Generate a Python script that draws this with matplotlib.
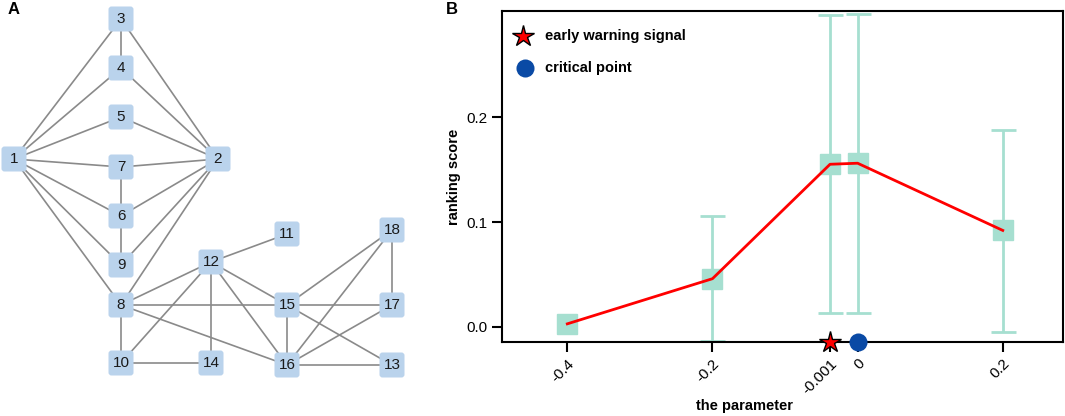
import numpy as np
import matplotlib
matplotlib.use("Agg")
import matplotlib.pyplot as plt
from matplotlib.patches import FancyBboxPatch

plt.rcParams['font.family'] = ['Liberation Sans', 'DejaVu Sans']

# ---- panel A: network ----
node_ids = [1, 2, 3, 4, 5, 6, 7, 8, 9, 10, 11, 12, 13, 14, 15, 16, 17, 18]
node_x = [14, 218, 121, 121, 121, 121, 121, 121, 121, 121, 287, 211, 392, 211, 287, 287, 392, 392]
node_y = [159, 159, 19, 68, 117, 216, 167, 305, 265, 363, 234, 262, 365, 363, 305, 365, 305, 230]
edges = [(1, 3), (1, 4), (1, 5), (1, 7), (1, 6), (1, 9), (1, 8),
         (2, 3), (2, 4), (2, 5), (2, 7), (2, 6), (2, 9), (2, 8),
         (3, 4), (7, 6), (6, 9),
         (8, 12), (8, 15), (8, 16), (8, 10),
         (12, 11), (12, 10), (12, 14), (12, 15), (12, 16),
         (10, 14), (15, 16), (15, 17), (15, 18), (15, 13),
         (16, 18), (16, 17), (16, 13), (18, 17)]

# ---- panel B: ranking score ----
param_labels = ['-0.4', '-0.2', '-0.001', '0', '0.2']
param_vals = [-0.4, -0.2, -0.001, 0.0, 0.2]
score_mean = [0.003, 0.046, 0.155, 0.156, 0.092]
score_low = [0.003, -0.013, 0.013, 0.013, -0.005]
score_high = [0.003, 0.106, 0.297, 0.298, 0.188]
warning_param = -0.001
critical_param = 0.0

# display positions for the axis: -0.001 is pulled away from 0 so both show
axis_vals = [-1.0, -0.4, -0.2, -0.001, 0.0, 0.2, 1.0]
axis_pos = [-1.0, -0.4, -0.2, -0.038, 0.0, 0.2, 1.0]

teal = '#a6dfd0'
node_col = '#bad3ec'

fig = plt.figure(figsize=(10.65, 4.16), dpi=100)

axA = fig.add_axes([0, 0, 440 / 1065, 1])
axA.set_xlim(0, 440)
axA.set_ylim(416, 0)
axA.axis('off')
pos = {n: (x, y) for n, x, y in zip(node_ids, node_x, node_y)}
for a, b in edges:
    axA.plot([pos[a][0], pos[b][0]], [pos[a][1], pos[b][1]], color='#8a8a8a', lw=1.2, zorder=1)
half = 12.5
for n in node_ids:
    x, y = pos[n]
    box = FancyBboxPatch((x - half + 3, y - half + 3), 2 * half - 6, 2 * half - 6,
                         boxstyle='round,pad=3', fc=node_col, ec='none', zorder=2)
    axA.add_patch(box)
    axA.text(x, y, str(n), ha='center', va='center', fontsize=11, color='#1a1a1a', zorder=3)

fig.text(8 / 1065, 1 - 10 / 416, 'A', fontsize=12, fontweight='bold', ha='left', va='center')
fig.text(446 / 1065, 1 - 10 / 416, 'B', fontsize=12, fontweight='bold', ha='left', va='center')

axB = fig.add_axes([502 / 1065, 74 / 416, 561 / 1065, 331 / 416])
axB.set_xscale('function', functions=(lambda v: np.interp(v, axis_vals, axis_pos),
                                      lambda p: np.interp(p, axis_pos, axis_vals)))
axB.set_xlim(-0.49, 0.283)
axB.set_ylim(-0.0143, 0.301)

mean = np.array(score_mean)
err = np.array([mean - np.array(score_low), np.array(score_high) - mean])
axB.errorbar(param_vals[1:], mean[1:], yerr=err[:, 1:], fmt='none', ecolor=teal,
             elinewidth=2, capsize=9, capthick=2, zorder=2)
axB.plot(param_vals, mean, 's', color=teal, ms=14, zorder=3)
axB.plot(param_vals, mean, '-', color='red', lw=2, zorder=4)

ybot = axB.get_ylim()[0]
axB.plot([warning_param], [ybot], marker='*', color='red', mec='black', mew=1, ms=16,
         clip_on=False, zorder=6)
axB.plot([critical_param], [ybot], marker='o', color='#0a4aa5', ms=13, mec='none',
         clip_on=False, zorder=6)

axB.set_xticks(param_vals)
axB.set_xticklabels(param_labels, rotation=45, ha='right', rotation_mode='anchor', fontsize=11)
axB.set_yticks([0.0, 0.1, 0.2])
axB.set_yticklabels(['0.0', '0.1', '0.2'], fontsize=11)
axB.tick_params(direction='out', length=7, width=1.5)
for s in axB.spines.values():
    s.set_linewidth(1.5)
axB.set_xlabel('the parameter', fontsize=10.5, fontweight='bold')
axB.xaxis.set_label_coords(0.433, -0.172)
axB.set_ylabel('ranking score', fontsize=10.5, fontweight='bold', labelpad=4)

# legend drawn by hand in axes fraction
axB.plot([0.038], [0.925], marker='*', color='red', mec='black', mew=1, ms=16,
         transform=axB.transAxes, clip_on=False)
axB.text(0.077, 0.925, 'early warning signal', transform=axB.transAxes, fontsize=10.5,
         fontweight='bold', va='center')
axB.plot([0.041], [0.828], marker='o', color='#0a4aa5', ms=13, mec='none',
         transform=axB.transAxes, clip_on=False)
axB.text(0.077, 0.828, 'critical point', transform=axB.transAxes, fontsize=10.5,
         fontweight='bold', va='center')

fig.savefig('out.png', dpi=100)
